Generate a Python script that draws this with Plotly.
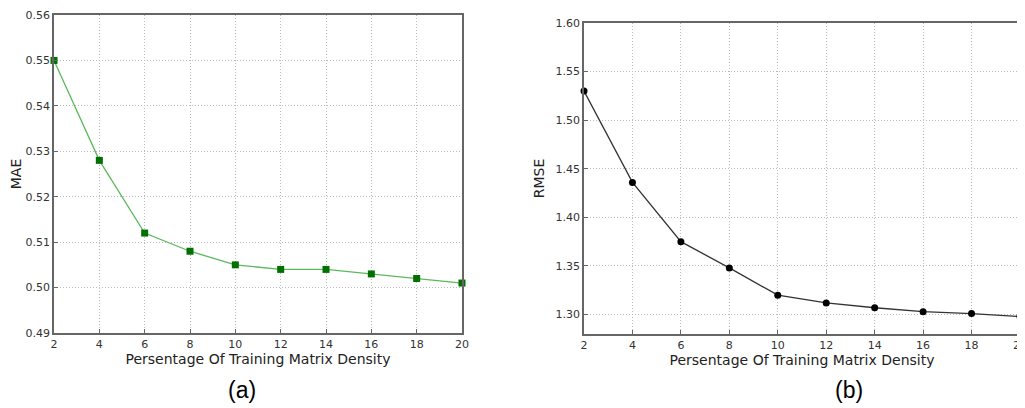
import plotly.graph_objects as go

density = [2, 4, 6, 8, 10, 12, 14, 16, 18, 20]
mae = [0.550, 0.528, 0.512, 0.508, 0.505, 0.504, 0.504, 0.503, 0.502, 0.501]
rmse = [1.530, 1.436, 1.375, 1.348, 1.320, 1.312, 1.307, 1.303, 1.301, 1.298]
x_ticks = [2, 4, 6, 8, 10, 12, 14, 16, 18, 20]
mae_ticks = [0.49, 0.50, 0.51, 0.52, 0.53, 0.54, 0.55, 0.56]
rmse_ticks = [1.30, 1.35, 1.40, 1.45, 1.50, 1.55, 1.60]

W, H = 1025, 408
OFF = 8  # default page body margin
fig = go.Figure()
fig.add_trace(go.Scatter(x=density, y=mae, mode="lines+markers", xaxis="x", yaxis="y",
                         line=dict(color="#5cb85c", width=1.3),
                         marker=dict(symbol="square", size=7, color="#007000"),
                         cliponaxis=False, showlegend=False))
fig.add_trace(go.Scatter(x=density, y=rmse, mode="lines+markers", xaxis="x2", yaxis="y2",
                         line=dict(color="#333333", width=1.3),
                         marker=dict(symbol="circle", size=7, color="#000000"),
                         cliponaxis=False, showlegend=False))

tickfont = dict(family="DejaVu Sans", size=11, color="#333333")
titlefont = dict(family="DejaVu Sans", size=14, color="#222222")
common = dict(showgrid=True, gridcolor="#bbbbbb", griddash="1px,2px", gridwidth=1,
              showline=True, linecolor="#666666", linewidth=1.5, mirror=True,
              ticks="inside", ticklen=4, tickcolor="#666666", zeroline=False,
              tickfont=tickfont, automargin=False)

def px(v):
    return (v - OFF) / W

def py(v):
    return (H - (v - OFF)) / H

fig.update_layout(
    width=W, height=H, margin=dict(l=0, r=0, t=0, b=0, autoexpand=False),
    paper_bgcolor="white", plot_bgcolor="white",
    xaxis=dict(domain=[px(54), px(462)], range=[2, 20], tickvals=x_ticks, anchor="y",
               title=dict(text="Persentage Of Training Matrix Density", font=titlefont, standoff=3),
               **common),
    yaxis=dict(domain=[py(333), py(15)], range=[0.49, 0.56], tickvals=mae_ticks,
               tickformat=".2f", anchor="x",
               title=dict(text="MAE", font=titlefont, standoff=8), **common),
    xaxis2=dict(domain=[px(584), px(1020)], range=[2, 20], tickvals=x_ticks, anchor="y2",
                title=dict(text="Persentage Of Training Matrix Density", font=titlefont, standoff=3),
                **common),
    yaxis2=dict(domain=[py(334), py(23)], range=[1.28, 1.60], tickvals=rmse_ticks,
                tickformat=".2f", anchor="x2",
                title=dict(text="RMSE", font=titlefont, standoff=8), **common),
    annotations=[
        dict(text="(a)", x=px(242), y=py(390), xref="paper", yref="paper", showarrow=False,
             xanchor="center", yanchor="middle",
             font=dict(family="Liberation Sans", size=23, color="black")),
        dict(text="(b)", x=px(849), y=py(390), xref="paper", yref="paper", showarrow=False,
             xanchor="center", yanchor="middle",
             font=dict(family="Liberation Sans", size=23, color="black")),
    ],
)

fig.write_html("out.html")
